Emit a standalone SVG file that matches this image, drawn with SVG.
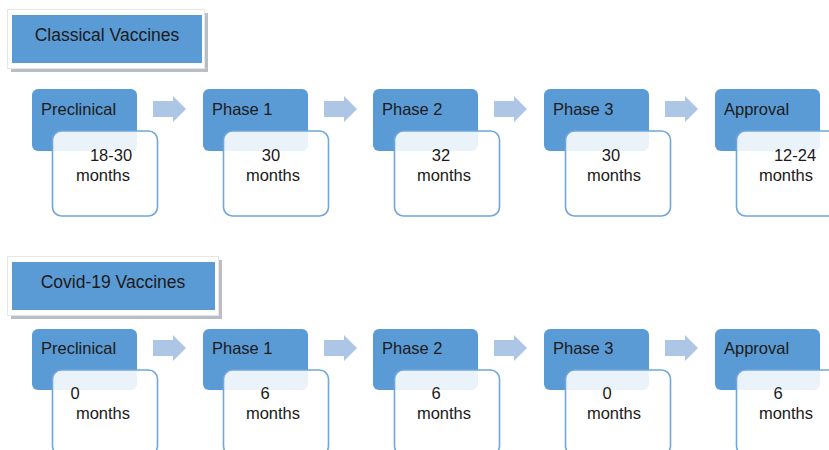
<svg xmlns="http://www.w3.org/2000/svg" width="829" height="450" viewBox="0 0 829 450">
<defs>
<style>
.t{font-family:"Liberation Sans",Arial,sans-serif;fill:#1a1a1a}
.title{font-size:17.5px;text-anchor:middle}
.lbl{font-size:16.5px}
.num{font-size:16.5px;text-anchor:middle}
.blue{fill:#5B9BD5}
.card{fill:#ffffff;fill-opacity:0.88;stroke:#6FA6DC;stroke-width:1.6}
.arrow{fill:#AEC6E6}
.frame{fill:#ffffff;stroke:#e6e6e6;stroke-width:1}
.shadow{fill:#b9bec6}
</style>
<path id="arr" d="M0,-8 L20,-8 L20,-13 L33,0 L20,13 L20,8 L0,8 Z"/>
</defs>
<rect width="829" height="450" fill="#ffffff"/>

<g id="title-classical">
<rect class="shadow" x="11" y="13" width="197" height="59"/>
<rect class="frame" x="7.5" y="9.5" width="197" height="59"/>
<rect class="blue" x="12" y="15" width="190" height="48"/>
<text class="t title" x="107" y="41">Classical Vaccines</text>
</g>

<g id="title-covid">
<rect class="shadow" x="11" y="260" width="211" height="59"/>
<rect class="frame" x="7.5" y="256.5" width="211" height="59"/>
<rect class="blue" x="12" y="262" width="203" height="48"/>
<text class="t title" x="113" y="288">Covid-19 Vaccines</text>
</g>

<g id="connectors">
<use href="#arr" class="arrow" x="153" y="109"/>
<use href="#arr" class="arrow" x="324" y="109"/>
<use href="#arr" class="arrow" x="494" y="109"/>
<use href="#arr" class="arrow" x="665" y="109"/>
<use href="#arr" class="arrow" x="153" y="348"/>
<use href="#arr" class="arrow" x="324" y="348"/>
<use href="#arr" class="arrow" x="494" y="348"/>
<use href="#arr" class="arrow" x="665" y="348"/>
</g>

<g id="c-preclinical">
<rect class="blue" x="32" y="89" width="105" height="62" rx="6"/>
<rect class="card" x="52.5" y="131" width="105" height="85" rx="9"/>
<text class="t lbl" x="41" y="115">Preclinical</text>
<text class="t num" x="111" y="161">18-30</text>
<text class="t num" x="103" y="181">months</text>
</g>
<g id="c-phase1">
<rect class="blue" x="203" y="89" width="105" height="62" rx="6"/>
<rect class="card" x="223.5" y="131" width="105" height="85" rx="9"/>
<text class="t lbl" x="212" y="115">Phase 1</text>
<text class="t num" x="271" y="161">30</text>
<text class="t num" x="273" y="181">months</text>
</g>
<g id="c-phase2">
<rect class="blue" x="373" y="89" width="105" height="62" rx="6"/>
<rect class="card" x="394.5" y="131" width="105" height="85" rx="9"/>
<text class="t lbl" x="382" y="115">Phase 2</text>
<text class="t num" x="441" y="161">32</text>
<text class="t num" x="444" y="181">months</text>
</g>
<g id="c-phase3">
<rect class="blue" x="544" y="89" width="105" height="62" rx="6"/>
<rect class="card" x="565.5" y="131" width="105" height="85" rx="9"/>
<text class="t lbl" x="553" y="115">Phase 3</text>
<text class="t num" x="611" y="161">30</text>
<text class="t num" x="614" y="181">months</text>
</g>
<g id="c-approval">
<rect class="blue" x="715" y="89" width="105" height="62" rx="6"/>
<rect class="card" x="736.5" y="131" width="105" height="85" rx="9"/>
<text class="t lbl" x="724" y="115">Approval</text>
<text class="t num" x="795" y="161">12-24</text>
<text class="t num" x="786" y="181">months</text>
</g>

<g id="v-preclinical">
<rect class="blue" x="32" y="329" width="105" height="61" rx="6"/>
<rect class="card" x="52.5" y="370" width="105" height="85" rx="9"/>
<text class="t lbl" x="41" y="354">Preclinical</text>
<text class="t num" x="75" y="399">0</text>
<text class="t num" x="103" y="419">months</text>
</g>
<g id="v-phase1">
<rect class="blue" x="203" y="329" width="105" height="61" rx="6"/>
<rect class="card" x="223.5" y="370" width="105" height="85" rx="9"/>
<text class="t lbl" x="212" y="354">Phase 1</text>
<text class="t num" x="265" y="399">6</text>
<text class="t num" x="273" y="419">months</text>
</g>
<g id="v-phase2">
<rect class="blue" x="373" y="329" width="105" height="61" rx="6"/>
<rect class="card" x="394.5" y="370" width="105" height="85" rx="9"/>
<text class="t lbl" x="382" y="354">Phase 2</text>
<text class="t num" x="436" y="399">6</text>
<text class="t num" x="444" y="419">months</text>
</g>
<g id="v-phase3">
<rect class="blue" x="544" y="329" width="105" height="61" rx="6"/>
<rect class="card" x="565.5" y="370" width="105" height="85" rx="9"/>
<text class="t lbl" x="553" y="354">Phase 3</text>
<text class="t num" x="607" y="399">0</text>
<text class="t num" x="614" y="419">months</text>
</g>
<g id="v-approval">
<rect class="blue" x="715" y="329" width="105" height="61" rx="6"/>
<rect class="card" x="736.5" y="370" width="105" height="85" rx="9"/>
<text class="t lbl" x="724" y="354">Approval</text>
<text class="t num" x="778" y="399">6</text>
<text class="t num" x="786" y="419">months</text>
</g>
</svg>
